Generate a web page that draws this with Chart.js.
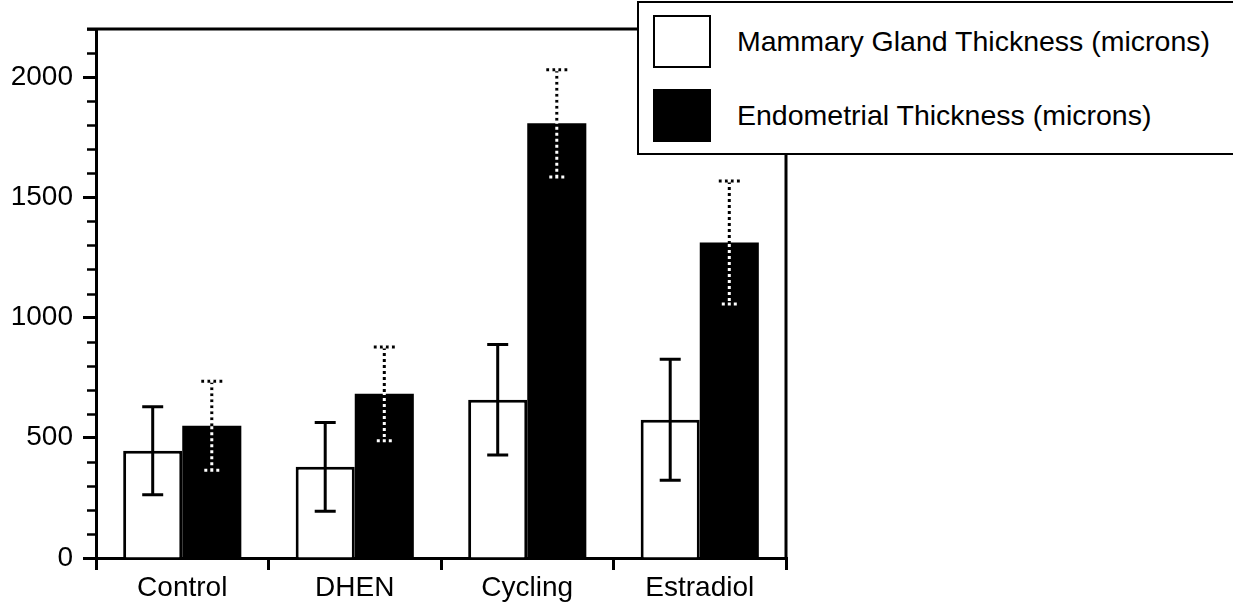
<!DOCTYPE html>
<html>
<head>
<meta charset="utf-8">
<script src="https://cdn.jsdelivr.net/npm/chart.js@4.4.0/dist/chart.umd.min.js"></script>
<style>
    html, body { margin: 0; padding: 0; background: #fff; overflow: hidden; }
    #wrap { position: relative; width: 1233px; height: 607px; }
    #legend {
        position: absolute; left: 637px; top: 1px; width: 700px; height: 150px;
        border: 2.5px solid #000; background: #fff; box-sizing: content-box;
        font-family: 'Liberation Sans', Arial, sans-serif; font-size: 28.5px; color: #000;
    }
    .item { position: absolute; left: 14px; height: 52px; display: flex; align-items: center; }
    .swatch { width: 54px; height: 49px; border: 2px solid #000; margin-right: 26px; }
</style>
</head>
<body>
<div id="wrap">
    <canvas id="chart" width="1233" height="607"></canvas>
    <div id="legend"></div>
</div>
<script>
// ============ Data ============
const CATEGORIES = ['Control', 'DHEN', 'Cycling', 'Estradiol'];
const SERIES_NAMES = ['Mammary Gland Thickness (microns)', 'Endometrial Thickness (microns)'];
const MAMMARY = [446, 379, 658, 575];
const MAMMARY_ERR = [183, 185, 230, 252];
const ENDOMETRIAL = [550, 683, 1808, 1312];
const ENDOMETRIAL_ERR = [185, 195, 223, 256];
const Y_MAX = 2200;
const Y_MINOR_STEP = 100;
const Y_LABEL_STEP = 500;

// ============ Plugins ============
// error bars: solid black for the white series, dotted for the black one
const errorBars = {
    id: 'errorBars',
    afterDatasetsDraw(chart) {
        const ctx = chart.ctx;
        const y = chart.scales.y;
        chart.data.datasets.forEach((ds, d) => {
            const meta = chart.getDatasetMeta(d);
            meta.data.forEach((bar, i) => {
                const v = ds.data[i], e = ds.errors[i];
                const top = y.getPixelForValue(v + e);
                const bot = y.getPixelForValue(v - e);
                const x = bar.x, cap = 10.5;
                const path = () => {
                    ctx.beginPath();
                    ctx.moveTo(x, top); ctx.lineTo(x, bot);
                    ctx.moveTo(x - cap, top); ctx.lineTo(x + cap, top);
                    ctx.moveTo(x - cap, bot); ctx.lineTo(x + cap, bot);
                    ctx.stroke();
                };
                ctx.save();
                ctx.lineWidth = 3;
                if (ds.dotted) {
                    ctx.strokeStyle = '#000';
                    ctx.setLineDash([3, 3]);
                    path();
                    ctx.strokeStyle = '#fff';
                    ctx.lineDashOffset = 3;
                    path();
                } else {
                    ctx.strokeStyle = '#000';
                    path();
                }
                ctx.restore();
            });
        });
    }
};

// minor y ticks plus the top/right frame lines
const frame = {
    id: 'frame',
    afterDraw(chart) {
        const ctx = chart.ctx;
        const { left, right, top, bottom } = chart.chartArea;
        const y = chart.scales.y;
        ctx.save();
        ctx.strokeStyle = '#000';
        ctx.lineWidth = 2.5;
        for (let v = 0; v <= Y_MAX; v += Y_MINOR_STEP) {
            if (v % Y_LABEL_STEP === 0) continue;
            const py = Math.round(y.getPixelForValue(v)) + 0.5;
            ctx.beginPath();
            ctx.moveTo(left - 9, py); ctx.lineTo(left, py);
            ctx.stroke();
        }
        ctx.lineWidth = 3;
        ctx.beginPath();
        ctx.moveTo(left - 9, top); ctx.lineTo(right, top);
        ctx.moveTo(right, top); ctx.lineTo(right, bottom);
        ctx.stroke();
        ctx.restore();
    }
};

// ============ Chart ============
Chart.defaults.font.family = "'Liberation Sans', Arial, sans-serif";
Chart.defaults.font.size = 28;
Chart.defaults.color = '#000';

const chart = new Chart(document.getElementById('chart').getContext('2d'), {
    type: 'bar',
    data: {
        labels: CATEGORIES,
        datasets: [
            {
                label: SERIES_NAMES[0], data: MAMMARY, errors: MAMMARY_ERR, dotted: false,
                backgroundColor: '#fff', borderColor: '#000', borderWidth: 3
            },
            {
                label: SERIES_NAMES[1], data: ENDOMETRIAL, errors: ENDOMETRIAL_ERR, dotted: true,
                backgroundColor: '#000', borderColor: '#000', borderWidth: 0
            }
        ]
    },
    options: {
        responsive: false,
        animation: false,
        events: [],
        layout: { padding: { top: 29, right: 447, left: 0, bottom: 0 } },
        datasets: { bar: { categoryPercentage: 0.685, barPercentage: 1.0 } },
        plugins: { legend: { display: false }, tooltip: { enabled: false } },
        scales: {
            x: {
                grid: { offset: true, drawOnChartArea: false, tickLength: 12, color: '#000', lineWidth: 3 },
                border: { color: '#000', width: 3 },
                ticks: { padding: 1 },
                afterFit: (axis) => { axis.height = 49; }
            },
            y: {
                min: 0,
                max: Y_MAX,
                grid: {
                    drawOnChartArea: false, tickLength: 13, tickWidth: 3,
                    tickColor: (c) => (c.tick && c.tick.value % Y_LABEL_STEP === 0 && c.tick.value !== Y_MAX) ? '#000' : 'rgba(0,0,0,0)'
                },
                border: { color: '#000', width: 3 },
                ticks: {
                    stepSize: Y_MINOR_STEP,
                    autoSkip: false,
                    padding: 10,
                    callback: (v) => (v % Y_LABEL_STEP === 0 ? String(v) : '')
                },
                afterFit: (axis) => { axis.width = 96; }
            }
        }
    },
    plugins: [errorBars, frame]
});

// ============ Legend ============
const legend = document.getElementById('legend');
const tops = [12, 86];
chart.data.datasets.forEach((ds, i) => {
    const item = document.createElement('div');
    item.className = 'item';
    item.style.top = tops[i] + 'px';
    const sw = document.createElement('div');
    sw.className = 'swatch';
    sw.style.background = ds.backgroundColor;
    const txt = document.createElement('span');
    txt.textContent = ds.label;
    item.appendChild(sw);
    item.appendChild(txt);
    legend.appendChild(item);
});
</script>
</body>
</html>
